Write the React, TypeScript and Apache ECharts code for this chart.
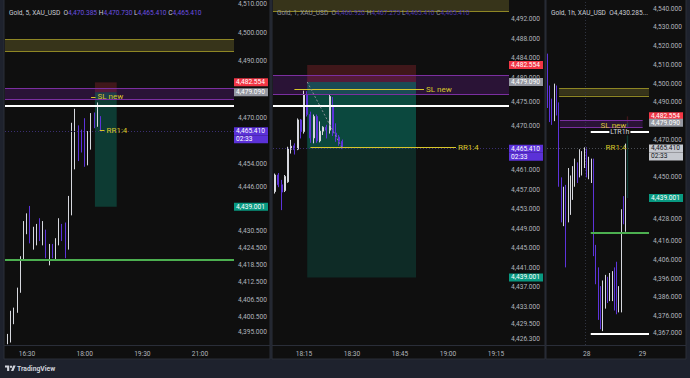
import React, { useEffect, useRef } from "react";
import * as echarts from "echarts";

// ---------------- shared price levels / drawings ----------------
const stopPrice = 4482.554;
const entryPrice = 4479.09;
const lastPrice = 4465.41;
const targetPrice = 4439.001;
const countdown = "02:33";
const oliveZone = [4493.5, 4497.7];
const purpleZone = [4476.6, 4480.5];
const whiteLevel = 4474.3;
const greenLevel = 4420.5;
const lowWhiteLevel = 4366.5;
const slNewLevel = 4477.5;
const rrLevel = 4465.7;
// hours relative to the 28th 00:00
const oliveStartHour = -11;
const purpleStartHour = -10.6;
const purpleEndHour = 25.1;
const levelStartHour = 2.7;
// minutes after midnight
const positionStartMin = 1096;
const positionEndMin = 1130;

// ---------------- Panel 1 : Gold, 5 (x = minutes after midnight) ----------------
const p1Title = "Gold, 5, XAU_USD";
const p1Times = [960, 965, 970, 975, 980, 985, 990, 995, 1000, 1005, 1010, 1015, 1020, 1025, 1030, 1035, 1040, 1045, 1050, 1055, 1060, 1065, 1070, 1075, 1080, 1085, 1090, 1095, 1100, 1105];
const p1Open = [4391.2, 4392.1, 4399.1, 4402.6, 4409.5, 4420.6, 4432.3, 4432.9, 4426.5, 4427.0, 4432.0, 4427.0, 4428.8, 4418.9, 4425.3, 4421.5, 4426.0, 4431.5, 4431.0, 4424.6, 4439.3, 4465.0, 4467.2, 4465.0, 4461.4, 4456.8, 4459.7, 4469.0, 4468.0, 4470.385];
const p1Close = [4393.8, 4399.1, 4402.6, 4410.1, 4420.6, 4432.5, 4433.2, 4426.5, 4431.5, 4432.2, 4427.5, 4428.0, 4421.8, 4425.3, 4421.5, 4426.0, 4431.5, 4431.0, 4424.8, 4439.3, 4465.0, 4465.7, 4461.4, 4460.0, 4456.8, 4460.2, 4469.0, 4468.0, 4470.4, 4465.41];
const p1Low = [4390.9, 4391.5, 4397.9, 4401.9, 4408.9, 4420.3, 4429.4, 4426.2, 4424.0, 4425.5, 4427.0, 4425.5, 4421.0, 4418.5, 4421.0, 4420.5, 4425.5, 4427.0, 4421.0, 4424.0, 4436.0, 4452.1, 4455.0, 4458.0, 4453.0, 4453.5, 4459.0, 4466.5, 4467.0, 4465.41];
const p1High = [4394.5, 4402.6, 4403.7, 4410.7, 4421.7, 4434.0, 4436.7, 4439.3, 4432.0, 4433.0, 4435.0, 4434.0, 4431.0, 4426.0, 4426.0, 4428.0, 4435.0, 4433.0, 4433.5, 4442.8, 4468.4, 4473.3, 4467.5, 4466.0, 4470.0, 4465.5, 4471.8, 4472.0, 4475.5, 4470.73];
const p1YTicks = [4510, 4500, 4490, 4470, 4454, 4446, 4430.5, 4424.5, 4418.5, 4412.5, 4406.5, 4400.5, 4395];
const p1XTicks = [990, 1080, 1170, 1260];
const p1SlLine = [1090, 1097];
const p1RrLine = [1103.5, 1111];

// ---------------- Panel 2 : Gold, 1 (x = minutes after midnight) ----------------
const p2Title = "Gold, 1, XAU_USD";
const p2Times = [1086, 1087, 1088, 1089, 1090, 1091, 1092, 1093, 1094, 1095, 1096, 1097, 1098, 1099, 1100, 1101, 1102, 1103, 1104, 1105, 1106, 1107];
const p2Open = [4456.6, 4460.0, 4458.0, 4456.8, 4458.6, 4465.3, 4466.0, 4465.3, 4471.3, 4468.9, 4476.5, 4472.4, 4467.6, 4472.0, 4467.0, 4469.0, 4469.8, 4469.2, 4474.0, 4468.6, 4467.8, 4466.92];
const p2Close = [4460.0, 4458.0, 4456.5, 4459.7, 4465.5, 4465.9, 4465.2, 4471.3, 4468.9, 4476.5, 4472.4, 4467.6, 4472.0, 4467.0, 4469.0, 4469.8, 4469.2, 4476.1, 4468.6, 4467.8, 4466.9, 4465.41];
const p2Low = [4456.2, 4457.5, 4452.8, 4456.5, 4458.4, 4464.4, 4464.2, 4465.1, 4467.5, 4468.5, 4472.0, 4466.6, 4466.5, 4466.6, 4466.7, 4468.2, 4467.5, 4468.5, 4468.0, 4466.8, 4466.0, 4465.41];
const p2High = [4460.3, 4460.4, 4459.0, 4460.0, 4465.8, 4467.2, 4466.5, 4471.6, 4471.5, 4477.3, 4477.2, 4473.0, 4472.4, 4472.4, 4471.0, 4470.0, 4470.3, 4476.6, 4476.0, 4470.6, 4468.2, 4467.275];
const p2YTicks = [4492, 4488, 4484, 4480, 4475, 4470, 4461, 4457, 4453, 4449, 4445, 4441, 4437, 4433, 4429.5, 4426.3];
const p2XTicks = [1095, 1110, 1125, 1140, 1155];
const p2SlLine = [1092, 1132.5];
const p2RrLine = [1097, 1142.5];

// ---------------- Panel 3 : Gold, 1h (x = hours after the 28th 00:00) ----------------
const p3Title = "Gold, 1h, XAU_USD";
const p3Hours = [-16, -15, -14, -13, -12, -11, -10, -9, -8, -7, -6, -5, -4, -3, -2, -1, 0, 1, 2, 3, 4, 5, 6, 7, 8, 9, 10, 11, 12, 13, 14, 15, 16, 17, 18];
const p3Open = [4513, 4496, 4488, 4482, 4497, 4486, 4448, 4428, 4440, 4430, 4434, 4441, 4451, 4456, 4452, 4453, 4458, 4462, 4452, 4449, 4458, 4412, 4398, 4380, 4374, 4384, 4392, 4386, 4388, 4396, 4386, 4380, 4383, 4433, 4430.285];
const p3Close = [4495, 4484, 4482, 4498.8, 4486, 4448, 4430, 4440, 4430, 4440, 4444, 4451, 4456, 4452, 4459, 4460, 4462, 4452, 4457, 4457, 4412, 4398, 4378, 4376, 4388, 4392, 4386, 4391, 4396, 4385, 4380, 4386, 4431, 4430.3, 4465.41];
const p3Low = [4487, 4479.5, 4478, 4480, 4483, 4445, 4426, 4424, 4402, 4426, 4430, 4438, 4445, 4447, 4450, 4451, 4455, 4450, 4449, 4447, 4408, 4393, 4374, 4369, 4368, 4380, 4383, 4384, 4384, 4379, 4377, 4378, 4378, 4425, 4421];
const p3High = [4516, 4499, 4492, 4500, 4499, 4490, 4450, 4445, 4446, 4455, 4451, 4456, 4460, 4458, 4465, 4464, 4466, 4466, 4461, 4460, 4460, 4414, 4402, 4392, 4395, 4398, 4397, 4399, 4400, 4402, 4405, 4392, 4433, 4440, 4468];
const p3YTicks = [4540, 4530, 4520, 4510, 4500, 4490, 4470, 4450, 4428, 4416, 4406, 4396, 4386, 4376, 4367];
const p3XTicks = [1, 25];
const p3XTickLabels = ["28", "29"];
const p3SlTextAt = 12.5;
const p3RrTextAt = 13.6;
const p3SessionAt = 0.5;

// ---------------- styling ----------------
const FONT = "Roboto, 'Liberation Sans', Arial, sans-serif";
const FS = 6.6;
const AXIS_TEXT = "#b2b5be";
const BULL = "#d6d8de";
const BEAR = "#5d33da";
const YELLOW = "#d8c62a";
const PANEL_BG = "#0f0f0f";
const FRAME_BG = "#1e222d";
const SEP = "#2a2e39";

const fmtPrice = (v: number) =>
  v.toLocaleString("en-US", { minimumFractionDigits: 3, maximumFractionDigits: 3 });
const fmtClock = (m: number) => {
  const h = Math.floor(m / 60);
  const mm = Math.round(m - h * 60);
  return `${h}:${String(mm).padStart(2, "0")}`;
};

type Panel = {
  left: number;
  width: number;
  right: number;
  perHour: number;
  xMin: number;
  xMax: number;
  yMin: number;
  yMax: number;
  times: number[];
  open: number[];
  close: number[];
  low: number[];
  high: number[];
  yTicks: number[];
  xTicks: number[];
  xFmt: (v: number) => string;
  barWidth: number;
  yMargin: number;
  lastBg: string;
  lastFg: string;
  lastLine: string;
  greenUpper: number;
  greenLower: number;
  slLine?: number[];
  rrLine?: number[];
  slAt?: number;
  rrAt?: number;
  diag?: boolean;
  sessionAt?: number;
  whiteLabel?: string;
};

const panels: Panel[] = [
  {
    left: 5, width: 229, right: 270, perHour: 60,
    xMin: 955.66, xMax: 1313.08, yMin: 4390.62, yMax: 4511.38,
    times: p1Times, open: p1Open, close: p1Close, low: p1Low, high: p1High,
    yTicks: p1YTicks, xTicks: p1XTicks, xFmt: fmtClock,
    barWidth: 1.2, yMargin: 4,
    lastBg: "#5b31d8", lastFg: "#ffffff", lastLine: "#3b2f72",
    greenUpper: 0.32, greenLower: 0.32,
    slLine: p1SlLine, rrLine: p1RrLine,
  },
  {
    left: 273, width: 236, right: 545, perHour: 60,
    xMin: 1085.31, xMax: 1159.06, yMin: 4425.13, yMax: 4495.9,
    times: p2Times, open: p2Open, close: p2Close, low: p2Low, high: p2High,
    yTicks: p2YTicks, xTicks: p2XTicks, xFmt: fmtClock,
    barWidth: 1.4, yMargin: 2,
    lastBg: "#5b31d8", lastFg: "#ffffff", lastLine: "#3b2f72",
    greenUpper: 0.42, greenLower: 0.2,
    slLine: p2SlLine, rrLine: p2RrLine, diag: true,
  },
  {
    left: 547, width: 102, right: 686, perHour: 1,
    xMin: -16.18, xMax: 27.84, yMin: 4360.6, yMax: 4544.6,
    times: p3Hours, open: p3Open, close: p3Close, low: p3Low, high: p3High,
    yTicks: p3YTicks, xTicks: p3XTicks,
    xFmt: (v: number) => p3XTickLabels[p3XTicks.indexOf(v)] ?? "",
    barWidth: 0.5, yMargin: 4,
    lastBg: "#c5c8ce", lastFg: "#131722", lastLine: "#4a4d55",
    greenUpper: 0.35, greenLower: 0.35,
    slAt: p3SlTextAt, rrAt: p3RrTextAt, sessionAt: p3SessionAt, whiteLabel: "LTR1h",
  },
];

function tagLabel(text: string, bg: string, fg: string) {
  return {
    show: true,
    position: "end",
    distance: 0,
    formatter: `{t|${text}}`,
    rich: {
      t: {
        color: fg, backgroundColor: bg, fontSize: FS, fontFamily: FONT,
        width: 30, height: 8, lineHeight: 8, padding: [0, 2], align: "left",
      },
    },
  };
}

function tag2Label(text: string, sub: string, bg: string, fg: string) {
  const t = {
    color: fg, backgroundColor: bg, fontSize: FS, fontFamily: FONT,
    width: 30, height: 8, lineHeight: 8, padding: [0, 2], align: "left",
  };
  return {
    show: true,
    position: "end",
    distance: 0,
    formatter: `{s| }\n{t|${text}}\n{t|${sub}}`,
    rich: { s: { fontSize: FS, height: 8, lineHeight: 8 }, t },
  };
}

function textLabel(text: string) {
  return {
    show: true, position: "end", distance: 2, formatter: text,
    color: YELLOW, fontSize: 8, fontFamily: FONT,
  };
}

function buildPanel(p: Panel, i: number) {
  const cx = (x: number) => Math.min(p.xMax, Math.max(p.xMin, x));
  const cy = (y: number) => Math.min(p.yMax, Math.max(p.yMin, y));
  const inY = (y: number) => y >= p.yMin && y <= p.yMax;
  const hx = (h: number) => cx(h * p.perHour);
  const posA = hx(positionStartMin / 60);
  const posB = hx(positionEndMin / 60);
  const lastT = p.times[p.times.length - 1];
  const data = p.times.map((t, k) => [t, p.open[k], p.close[k], p.low[k], p.high[k]]);

  const areas: any[] = [];
  const band = (z: number[], h0: number, h1: number, color: string) => {
    if (z[1] < p.yMin || z[0] > p.yMax) return;
    areas.push([
      { xAxis: hx(h0), yAxis: cy(z[1]), itemStyle: { color, borderWidth: 0 } },
      { xAxis: hx(h1), yAxis: cy(z[0]) },
    ]);
  };
  band(oliveZone, oliveStartHour, Infinity, "#37341a");
  band(purpleZone, purpleStartHour, purpleEndHour, "#2a1336");
  areas.push([
    { xAxis: posA, yAxis: cy(stopPrice), itemStyle: { color: "rgba(242,54,69,0.22)", borderWidth: 0 } },
    { xAxis: posB, yAxis: cy(entryPrice) },
  ]);
  areas.push([
    { xAxis: posA, yAxis: cy(entryPrice), itemStyle: { color: `rgba(8,153,129,${p.greenUpper})`, borderWidth: 0 } },
    { xAxis: posB, yAxis: cy(lastPrice) },
  ]);
  areas.push([
    { xAxis: posA, yAxis: cy(lastPrice), itemStyle: { color: `rgba(8,153,129,${p.greenLower})`, borderWidth: 0 } },
    { xAxis: posB, yAxis: cy(targetPrice) },
  ]);

  const lines: any[] = [];
  const seg = (x1: number, x2: number, y: number, lineStyle: any, label?: any) =>
    lines.push([
      { xAxis: cx(x1), yAxis: y, lineStyle, label: label || { show: false } },
      { xAxis: cx(x2), yAxis: y },
    ]);
  const edge = (y: number, color: string, h0: number, h1: number) => {
    if (inY(y)) seg(hx(h0), hx(h1), y, { color, width: 1, type: "solid" });
  };
  edge(oliveZone[0], "#8e8624", oliveStartHour, Infinity);
  edge(oliveZone[1], "#8e8624", oliveStartHour, Infinity);
  edge(purpleZone[0], "#7b2fa0", purpleStartHour, purpleEndHour);
  edge(purpleZone[1], "#7b2fa0", purpleStartHour, purpleEndHour);
  if (inY(whiteLevel))
    seg(hx(levelStartHour), p.xMax, whiteLevel, { color: "#ffffff", width: 2, type: "solid" },
      p.whiteLabel
        ? {
            show: true, position: "middle", distance: 0, verticalAlign: "middle",
            formatter: p.whiteLabel, color: "#d1d4dc", fontSize: 7, fontFamily: FONT,
            backgroundColor: PANEL_BG, padding: [0, 1],
          }
        : undefined);
  if (inY(greenLevel)) seg(hx(levelStartHour), p.xMax, greenLevel, { color: "#4caf50", width: 2, type: "solid" });
  if (inY(lowWhiteLevel)) seg(hx(levelStartHour), p.xMax, lowWhiteLevel, { color: "#ffffff", width: 2, type: "solid" });
  if (p.slLine) seg(p.slLine[0], p.slLine[1], slNewLevel, { color: YELLOW, width: 1, type: "solid" }, textLabel("SL new"));
  if (p.rrLine) seg(p.rrLine[0], p.rrLine[1], rrLevel, { color: YELLOW, width: 1, type: "solid" }, textLabel("RR1:4"));
  if (p.diag)
    lines.push([
      { xAxis: posA, yAxis: entryPrice, lineStyle: { color: "#8a8d95", width: 1, type: [2, 2] }, label: { show: false } },
      { xAxis: lastT, yAxis: lastPrice },
    ]);
  if (p.sessionAt != null)
    lines.push([
      { xAxis: p.sessionAt, yAxis: p.yMin, lineStyle: { color: "#2f3340", width: 1, type: [1, 2] }, label: { show: false } },
      { xAxis: p.sessionAt, yAxis: p.yMax },
    ]);
  const clear = { color: "rgba(0,0,0,0)", width: 0 };
  seg(p.xMin, p.xMax, stopPrice, clear, tagLabel(fmtPrice(stopPrice), "#f23645", "#ffffff"));
  seg(p.xMin, p.xMax, entryPrice, clear, tagLabel(fmtPrice(entryPrice), "#9598a1", "#ffffff"));
  seg(p.xMin, p.xMax, lastPrice, { color: p.lastLine, width: 1, type: [1, 2] },
    tag2Label(fmtPrice(lastPrice), countdown, p.lastBg, p.lastFg));
  seg(p.xMin, p.xMax, targetPrice, clear, tagLabel(fmtPrice(targetPrice), "#089981", "#ffffff"));

  const points: any[] = [];
  if (p.slAt != null) points.push({ coord: [p.slAt, slNewLevel], label: { formatter: "SL new" } });
  if (p.rrAt != null) points.push({ coord: [p.rrAt, rrLevel], label: { formatter: "RR1:4" } });

  return {
    grid: { left: p.left, top: 0, width: p.width, height: 345, containLabel: false, outerBoundsMode: "none" },
    xAxis: {
      gridIndex: i, type: "value", min: p.xMin, max: p.xMax,
      axisLine: { show: false }, axisTick: { show: false }, splitLine: { show: false },
      axisLabel: { customValues: p.xTicks, formatter: p.xFmt, color: AXIS_TEXT, fontSize: FS, fontFamily: FONT, margin: 5 },
    },
    yAxis: {
      gridIndex: i, type: "value", position: "right", min: p.yMin, max: p.yMax, scale: true,
      axisLine: { show: false }, axisTick: { show: false }, splitLine: { show: false },
      axisLabel: { customValues: p.yTicks, formatter: fmtPrice, color: AXIS_TEXT, fontSize: FS, fontFamily: FONT, margin: p.yMargin },
    },
    series: {
      type: "candlestick",
      xAxisIndex: i,
      yAxisIndex: i,
      data,
      barWidth: p.barWidth,
      itemStyle: { color: BULL, color0: BEAR, borderColor: BULL, borderColor0: BEAR, borderWidth: 1 },
      markArea: { silent: true, label: { show: false }, data: areas },
      markLine: { silent: true, symbol: ["none", "none"], label: { show: false }, data: lines },
      markPoint: points.length
        ? {
            silent: true, symbol: "rect", symbolSize: 1, itemStyle: { color: "rgba(0,0,0,0)" },
            label: { show: true, position: "inside", color: YELLOW, fontSize: 8, fontFamily: FONT },
            data: points,
          }
        : undefined,
    },
  };
}

function header(x: number, title: string, vals: string[], nameColor: string, valColor: string) {
  return {
    type: "text",
    x,
    y: 13,
    z: 20,
    style: {
      text: `{n|${title}}  {k|O}{v|${vals[0]}} {k|H}{v|${vals[1]}} {k|L}{v|${vals[2]}} {k|C}{v|${vals[3]}}`,
      rich: {
        n: { fill: nameColor, fontSize: FS, fontFamily: FONT },
        k: { fill: nameColor, fontSize: FS, fontFamily: FONT },
        v: { fill: valColor, fontSize: FS, fontFamily: FONT },
      },
      fontSize: FS,
      fontFamily: FONT,
      verticalAlign: "middle",
    },
  };
}

function buildOption() {
  const parts = panels.map((p, i) => buildPanel(p, i));
  const last = (a: number[]) => a[a.length - 1];
  const ohlc1 = [last(p1Open), last(p1High), last(p1Low), last(p1Close)].map(fmtPrice);
  const ohlc2 = [last(p2Open), last(p2High), last(p2Low), last(p2Close)].map(fmtPrice);

  const frames: any[] = [];
  const frameBounds = [[4, 270], [272, 545], [546, 686]];
  frameBounds.forEach(([a, b]) => {
    frames.push({ type: "rect", z: -2, shape: { x: a, y: -1, width: b - a, height: 360 }, style: { fill: PANEL_BG, stroke: SEP, lineWidth: 1 } });
    frames.push({ type: "line", z: -1, shape: { x1: a, y1: 345.5, x2: b, y2: 345.5 }, style: { stroke: SEP, lineWidth: 1 } });
  });

  return {
    animation: false,
    backgroundColor: FRAME_BG,
    grid: parts.map((p) => p.grid),
    xAxis: parts.map((p) => p.xAxis),
    yAxis: parts.map((p) => p.yAxis),
    series: parts.map((p) => p.series),
    graphic: [
      ...frames,
      header(9, p1Title, ohlc1, "#c9ccd4", "#6b4fe0"),
      header(277, p2Title, ohlc2, "#8f929a", "#4f3ab0"),
      {
        type: "text", x: 551, y: 13, z: 20,
        style: { text: `${p3Title}  O${fmtPrice(last(p3Open))}...`, fill: "#c9ccd4", fontSize: FS, fontFamily: FONT, verticalAlign: "middle" },
      },
      {
        type: "group", x: 5, y: 364.3, scaleX: 0.3, scaleY: 0.3, z: 20,
        children: [
          { type: "polygon", shape: { points: [[0, 4], [14, 4], [14, 22], [7, 22], [7, 11], [0, 11]] }, style: { fill: "#d1d4dc" } },
          { type: "polygon", shape: { points: [[20, 22], [27.5, 4], [35.5, 4], [28, 22]] }, style: { fill: "#d1d4dc" } },
          { type: "circle", shape: { cx: 20, cy: 8, r: 4 }, style: { fill: "#d1d4dc" } },
        ],
      },
      {
        type: "text", x: 17, y: 368.5, z: 20,
        style: { text: "TradingView", fill: "#d1d4dc", fontSize: 6.8, fontWeight: "bold", fontFamily: FONT, verticalAlign: "middle" },
      },
    ],
  };
}

export default function App() {
  const ref = useRef<HTMLDivElement>(null);
  useEffect(() => {
    if (!ref.current) return;
    const chart = echarts.init(ref.current, undefined, { renderer: "svg" });
    chart.setOption(buildOption() as any);
    return () => chart.dispose();
  }, []);
  return (
    <div
      ref={ref}
      style={{ position: "absolute", left: 0, top: 0, width: 690, height: 378, background: FRAME_BG }}
    />
  );
}
